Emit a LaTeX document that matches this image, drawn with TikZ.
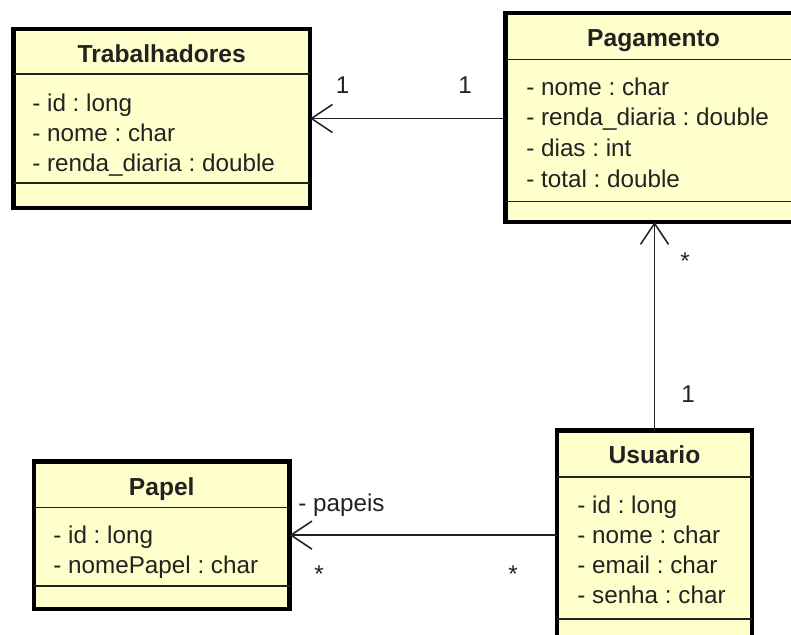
\documentclass[tikz,border=0pt]{standalone}
\usepackage{fontspec}
\setmainfont{Liberation Sans}
\usepackage{xcolor}
\usepackage{tikz}
\usetikzlibrary{arrows.meta,positioning,fit,calc}
\frenchspacing

\definecolor{classfill}{HTML}{FFFFCC}
\definecolor{inkgray}{HTML}{222222}

\tikzset{
  umlclass/.style={draw=black, line width=2.3pt, fill=classfill, inner sep=0pt, outer sep=0pt},
  divider/.style={draw=inkgray, line width=0.8pt},
  classname/.style={font=\fontsize{14}{16}\selectfont\bfseries, text=inkgray, anchor=base, inner sep=0pt},
  attr/.style={font=\fontsize{13.8}{16}\selectfont, text=inkgray, anchor=base west, inner sep=0pt},
  mult/.style={font=\fontsize{13.8}{16}\selectfont, text=inkgray, anchor=base, inner sep=0pt},
  assoc/.style={draw=inkgray, line width=0.9pt, -{Straight Barb[length=0.42cm,width=0.56cm,line width=0.9pt]}}
}

\begin{document}
\begin{tikzpicture}[x=0.02cm,y=-0.02cm]
  \useasboundingbox (0,0) rectangle (791,635);
  \clip (0,0) rectangle (791,635);

  % class boxes
  \node[umlclass, fit={(13.5,29) (310,208)}] (trab) {};
  \node[umlclass, fit={(505.5,13.3) (803,222)}] (pag) {};
  \node[umlclass, fit={(34,461.5) (289.5,608.7)}] (papel) {};
  \node[umlclass, fit={(557,430.5) (752,652)}] (usu) {};

  % compartments
  \draw[divider] (trab.west |- 0,74) -- (trab.east |- 0,74);
  \draw[divider] (trab.west |- 0,183) -- (trab.east |- 0,183);
  \draw[divider] (pag.west |- 0,59.3) -- (pag.east |- 0,59.3);
  \draw[divider] (pag.west |- 0,201.7) -- (pag.east |- 0,201.7);
  \draw[divider] (papel.west |- 0,507.3) -- (papel.east |- 0,507.3);
  \draw[divider] (papel.west |- 0,586) -- (papel.east |- 0,586);
  \draw[divider] (usu.west |- 0,477) -- (usu.east |- 0,477);
  \draw[divider] (usu.west |- 0,619) -- (usu.east |- 0,619);

  % Trabalhadores
  \node[classname] (trabName) at (trab.north |- 0,63) {Trabalhadores};
  \node[attr] (trabId) at (32,111.5) {- id : long};
  \node[attr] (trabNome) at (32,141.5) {- nome : char};
  \node[attr] (trabRenda) at (32,171.5) {- renda\_diaria : double};

  % Pagamento
  \node[classname] (pagName) at (653.5,46.7) {Pagamento};
  \node[attr] (pagNome) at (526,95) {- nome : char};
  \node[attr] (pagRenda) at (526,126) {- renda\_diaria : double};
  \node[attr] (pagDias) at (526,156.7) {- dias : int};
  \node[attr] (pagTotal) at (526,187.7) {- total : double};

  % Papel
  \node[classname] (papelName) at (papel.north |- 0,495) {Papel};
  \node[attr] (papelId) at (53,543.3) {- id : long};
  \node[attr] (papelNome) at (53,573.3) {- nomePapel : char};

  % Usuario
  \node[classname] (usuName) at (usu.north |- 0,463.3) {Usuario};
  \node[attr] (usuId) at (577,513.3) {- id : long};
  \node[attr] (usuNome) at (577,543.3) {- nome : char};
  \node[attr] (usuEmail) at (577,573.3) {- email : char};
  \node[attr] (usuSenha) at (577,603.3) {- senha : char};

  % associations
  \draw[assoc] (pag.west |- trab.east) -- (trab.east);
  \draw[assoc] (usu.north) -- (usu.north |- pag.south);
  \draw[assoc] (usu.west |- papel.east) -- (papel.east);

  % multiplicities and role
  \node[mult] (mTrab) at (342.7,93) {1};
  \node[mult] (mPagL) at (465,93) {1};
  \node[mult] (mPagU) at (685,269) {*};
  \node[mult] (mUsuP) at (688,402) {1};
  \node[attr] (rPapeis) at (298,511.7) {- papeis};
  \node[mult] (mPapel) at (319,582) {*};
  \node[mult] (mUsuR) at (513,582) {*};
\end{tikzpicture}
\end{document}
